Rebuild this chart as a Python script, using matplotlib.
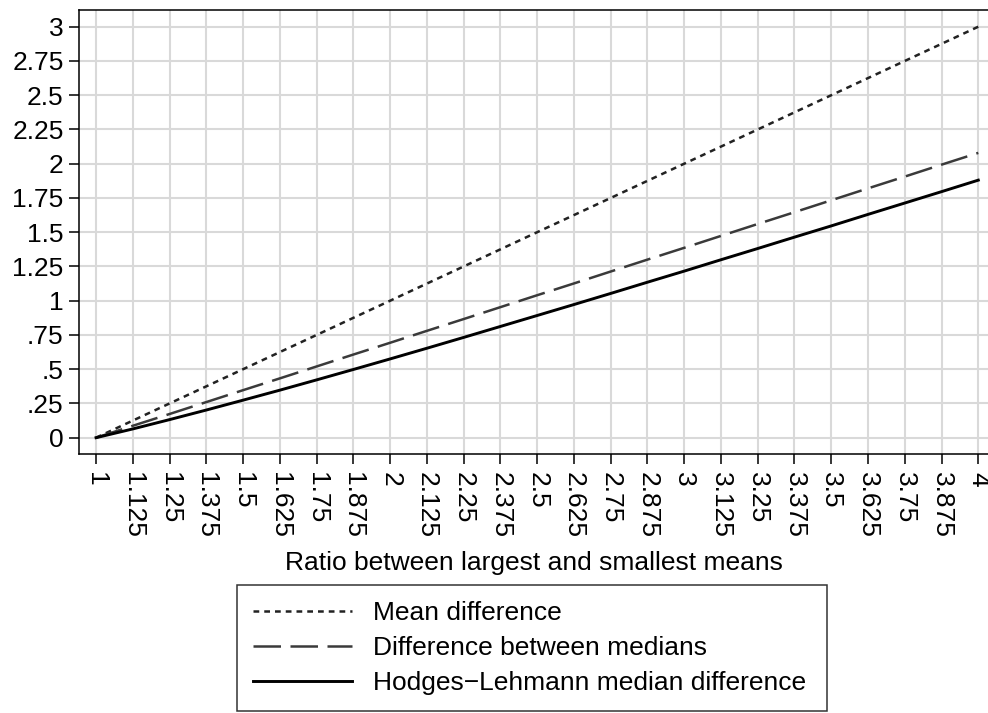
import matplotlib
matplotlib.use("Agg")
from matplotlib import pyplot as plt

plt.rcParams['font.family'] = ['Liberation Sans', 'DejaVu Sans']

# ratio between largest and smallest means
ratio = [1, 1.125, 1.25, 1.375, 1.5, 1.625, 1.75, 1.875, 2, 2.125, 2.25, 2.375,
         2.5, 2.625, 2.75, 2.875, 3, 3.125, 3.25, 3.375, 3.5, 3.625, 3.75, 3.875, 4]

mean_diff = [0, 0.125, 0.25, 0.375, 0.5, 0.625, 0.75, 0.875, 1, 1.125, 1.25, 1.375,
             1.5, 1.625, 1.75, 1.875, 2, 2.125, 2.25, 2.375, 2.5, 2.625, 2.75, 2.875, 3]

median_diff = [0, 0.087, 0.173, 0.260, 0.347, 0.433, 0.520, 0.607, 0.693, 0.780,
               0.866, 0.953, 1.040, 1.126, 1.213, 1.300, 1.386, 1.473, 1.560, 1.646,
               1.733, 1.820, 1.906, 1.993, 2.079]

hl_diff = [0, 0.064, 0.132, 0.202, 0.274, 0.347, 0.422, 0.498, 0.575, 0.653,
           0.732, 0.812, 0.892, 0.972, 1.053, 1.135, 1.216, 1.299, 1.381, 1.464,
           1.546, 1.630, 1.713, 1.796, 1.880]

yticks = [0, 0.25, 0.5, 0.75, 1, 1.25, 1.5, 1.75, 2, 2.25, 2.5, 2.75, 3]
ytick_labels = ['0', '.25', '.5', '.75', '1', '1.25', '1.5', '1.75', '2',
                '2.25', '2.5', '2.75', '3']
xtick_labels = ['1', '1.125', '1.25', '1.375', '1.5', '1.625', '1.75', '1.875', '2',
                '2.125', '2.25', '2.375', '2.5', '2.625', '2.75', '2.875', '3',
                '3.125', '3.25', '3.375', '3.5', '3.625', '3.75', '3.875', '4']

fs = 19
W, H = 988, 713
fig = plt.figure(figsize=(W / 100, H / 100), dpi=100)
ax = fig.add_axes([79 / W, 1 - 454 / H, (W - 79) / W, (454 - 10) / H])

ax.plot(ratio, mean_diff, color='#222222', lw=1.8, dashes=(2.3, 2.0),
        label='Mean difference')
ax.plot(ratio, median_diff, color='#3a3a3a', lw=1.8, dashes=(11, 3.8),
        label='Difference between medians')
ax.plot(ratio, hl_diff, color='black', lw=2.1,
        label='Hodges\u2212Lehmann median difference')

ax.set_xlim(0.942, 4.033)
ax.set_ylim(-0.119, 3.122)
ax.set_xticks(ratio)
ax.set_xticklabels(xtick_labels, rotation=270, fontsize=fs)
ax.set_yticks(yticks)
ax.set_yticklabels(ytick_labels, fontsize=fs)
ax.tick_params(axis='both', direction='out', length=7, width=1.1, pad=4, color='black')
ax.tick_params(axis='x', pad=6)
ax.grid(True, color='#d9d9d9', lw=1.5)
ax.set_axisbelow(True)

for side in ['left', 'bottom', 'top']:
    ax.spines[side].set_linewidth(1.1)
ax.spines['right'].set_visible(False)

ax.set_xlabel('Ratio between largest and smallest means', fontsize=fs, labelpad=9)

leg = fig.legend(loc='upper left', bbox_to_anchor=(237 / W, 1 - 585 / H, 590 / W, 0),
                 mode='expand', fontsize=fs, frameon=True, fancybox=False,
                 edgecolor='black', handlelength=3.75, handletextpad=0.8,
                 labelspacing=0.42, borderpad=0.6, borderaxespad=0)
leg.get_frame().set_linewidth(1.1)

fig.savefig('out.png', dpi=100)
